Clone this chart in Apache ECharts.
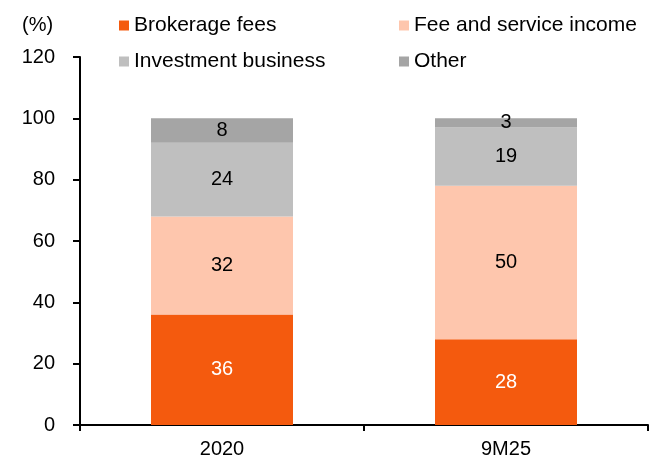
<!DOCTYPE html>
<html>
<head>
<meta charset="utf-8">
<script src="https://cdn.jsdelivr.net/npm/echarts@6/dist/echarts.min.js"></script>
<style>
  html, body { margin: 0; padding: 0; background: #fff; }
  #chart { width: 666px; height: 459px; }
</style>
</head>
<body>
<div id="chart"></div>
<script>
const categories = ['2020', '9M25']
const seriesNames = ['Brokerage fees', 'Fee and service income', 'Investment business', 'Other']
const brokerage = [36, 28]
const feeService = [32, 50]
const investment = [24, 19]
const other = [8, 3]
const colors = ['#f45a0e', '#fec6ad', '#bfbfbf', '#a5a5a5']
const labelColors = ['#ffffff', '#000000', '#000000', '#000000']

const font = 'Liberation Sans, Arial, sans-serif'
const chart = echarts.init(document.getElementById('chart'))

const values = [brokerage, feeService, investment, other]
// one legend per item so the 2x2 layout lines up
const legendPos = [[119, 15], [399, 15], [119, 51], [399, 51]]

chart.setOption({
  animation: false,
  textStyle: { fontFamily: font },
  grid: { left: 80, right: 18, top: 57, bottom: 33 },
  graphic: [
    {
      type: 'text',
      left: 22,
      top: 15,
      style: { text: '(%)', fill: '#000', fontSize: 20, fontFamily: font }
    }
  ],
  legend: seriesNames.map((name, i) => ({
    data: [name],
    left: legendPos[i][0],
    top: legendPos[i][1],
    itemWidth: 10,
    itemHeight: 10,
    itemGap: 0,
    icon: 'rect',
    padding: 0,
    textStyle: { fontSize: 21, color: '#000', fontFamily: font }
  })),
  xAxis: {
    type: 'category',
    data: categories,
    axisLine: { lineStyle: { color: '#000', width: 2 } },
    axisTick: { show: true, length: 6, lineStyle: { color: '#000', width: 2 } },
    axisLabel: { color: '#000', fontSize: 20, margin: 14, fontFamily: font }
  },
  yAxis: {
    type: 'value',
    min: 0,
    max: 120,
    interval: 20,
    axisLine: { show: true, lineStyle: { color: '#000', width: 2 } },
    axisTick: { show: true, length: 7, lineStyle: { color: '#000', width: 2 } },
    axisLabel: { color: '#000', fontSize: 20, margin: 25, fontFamily: font },
    splitLine: { show: false }
  },
  series: seriesNames.map((name, i) => ({
    name,
    type: 'bar',
    stack: 'total',
    barWidth: '50%',
    data: values[i],
    itemStyle: { color: colors[i] },
    label: {
      show: true,
      position: 'inside',
      color: labelColors[i],
      fontSize: 20,
      fontFamily: font
    }
  }))
})
</script>
</body>
</html>
